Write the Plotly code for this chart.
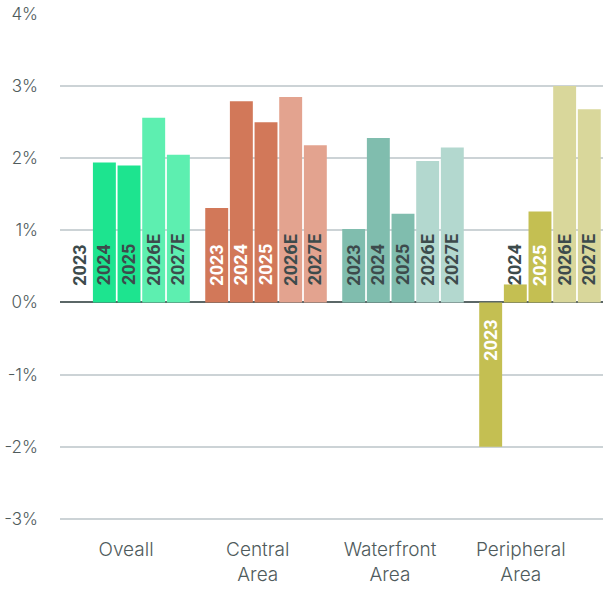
import plotly.graph_objects as go

# Annual change by area, actuals and estimates
categories = ["Oveall", "Central<br>Area", "Waterfront<br>Area", "Peripheral<br>Area"]
years = ["2023", "2024", "2025", "2026E", "2027E"]
values = {
    "2023": [0.00, 1.31, 1.02, -2.00],
    "2024": [1.94, 2.79, 2.28, 0.25],
    "2025": [1.90, 2.50, 1.23, 1.26],
    "2026E": [2.56, 2.85, 1.96, 3.00],
    "2027E": [2.05, 2.18, 2.15, 2.68],
}
y_ticks = [-3, -2, -1, 0, 1, 2, 3, 4]

# Style
actual_colors = ["#1de48f", "#d27859", "#80bdae", "#c4bf52"]
estimate_colors = ["#5defb0", "#e3a38f", "#b3d8cf", "#d9d79b"]
light_text = "#ffffff"
dark_text = "#3d4b4c"
# label colour per year, per area
label_colors = {
    "2023": [dark_text, light_text, dark_text, light_text],
    "2024": [dark_text, light_text, dark_text, dark_text],
    "2025": [dark_text, light_text, dark_text, light_text],
    "2026E": [dark_text, dark_text, dark_text, dark_text],
    "2027E": [dark_text, dark_text, dark_text, dark_text],
}
axis_text = "#4f5b5c"
bargap = 0.1
label_positions = [-0.022, 0.94, 1.905, 2.86]

x = list(range(len(categories)))
fig = go.Figure()
for yr in years:
    colors = estimate_colors if yr.endswith("E") else actual_colors
    fig.add_trace(go.Bar(
        x=x, y=values[yr], name=yr,
        marker=dict(color=colors, line=dict(width=0)),
        hoverinfo="skip",
    ))

# year labels sit just off the zero line, rotated
slot = (1 - bargap) / len(years)
for k, yr in enumerate(years):
    off = -(1 - bargap) / 2 + slot / 2 + slot * k
    for i, v in enumerate(values[yr]):
        neg = v < 0
        fig.add_annotation(
            x=i + off, y=0, xref="x", yref="y",
            text="<b>%s</b>" % yr, showarrow=False, textangle=-90,
            yanchor="top" if neg else "bottom",
            yshift=-15 if neg else 15,
            font=dict(family="Roboto", size=18, color=label_colors[yr][i]),
        )

fig.update_layout(
    width=603, height=589,
    margin=dict(l=60, r=0, t=14, b=68),
    plot_bgcolor="white", paper_bgcolor="white",
    barmode="group", bargap=bargap, bargroupgap=0.07,
    showlegend=False,
    font=dict(family="Inter", size=17, color=axis_text),
)
fig.update_xaxes(
    range=[-0.504, 3.46],
    tickmode="array", tickvals=label_positions, ticktext=categories,
    showgrid=False, showline=False, ticks="", ticklabelstandoff=15,
    tickfont=dict(family="Inter", size=19, color=axis_text, weight=300),
)
fig.update_yaxes(
    range=[-3.03, 4], tickmode="array", tickvals=y_ticks,
    ticktext=["%d%%" % t for t in y_ticks],
    showgrid=True, gridcolor="#ccd3d6", gridwidth=2,
    zeroline=True, zerolinecolor="#5b6767", zerolinewidth=2,
    showline=False, ticks="", ticklabelstandoff=21,
    tickfont=dict(family="Inter", size=17, color=axis_text, weight=300),
)

fig.write_html("out.html")
